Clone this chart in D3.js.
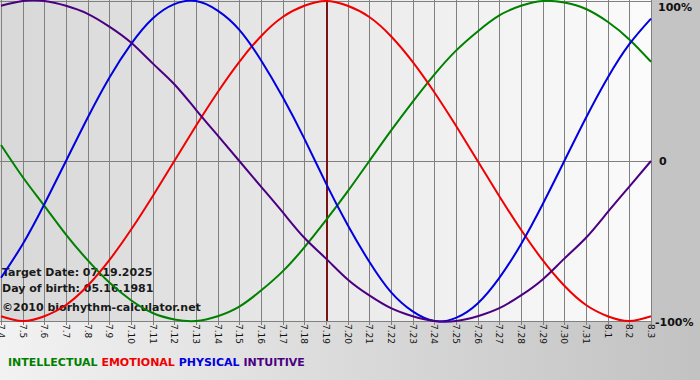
<!DOCTYPE html>
<html>
<head>
<meta charset="utf-8">
<script src="https://cdn.jsdelivr.net/npm/d3@7"></script>
<style>
  html, body { margin: 0; padding: 0; background: #c4c4c4; }
  svg { display: block; font-family: "DejaVu Sans", Verdana, sans-serif; }
</style>
</head>
<body>
<div id="chart"></div>
<script>
const days = ['7.4', '7.5', '7.6', '7.7', '7.8', '7.9', '7.10', '7.11', '7.12', '7.13', '7.14',
  '7.15', '7.16', '7.17', '7.18', '7.19', '7.20', '7.21', '7.22', '7.23', '7.24', '7.25',
  '7.26', '7.27', '7.28', '7.29', '7.30', '7.31', '8.1', '8.2', '8.3'];
const targetDay = '7.19';

const intellectual = [0.10, -0.10, -0.28, -0.46, -0.62, -0.76, -0.87, -0.95, -0.99, -1.00, -0.97,
  -0.91, -0.81, -0.69, -0.54, -0.37, -0.19, 0.00, 0.19, 0.37, 0.54, 0.69, 0.81, 0.91, 0.97,
  1.00, 0.99, 0.95, 0.87, 0.76, 0.62];
const emotional = [-0.97, -1.00, -0.97, -0.90, -0.78, -0.62, -0.43, -0.22, 0.00, 0.22, 0.43,
  0.62, 0.78, 0.90, 0.97, 1.00, 0.97, 0.90, 0.78, 0.62, 0.43, 0.22, 0.00, -0.22, -0.43,
  -0.62, -0.78, -0.90, -0.97, -1.00, -0.97];
const physical = [-0.73, -0.52, -0.27, 0.00, 0.27, 0.52, 0.73, 0.89, 0.98, 1.00, 0.94,
  0.82, 0.63, 0.40, 0.14, -0.14, -0.40, -0.63, -0.82, -0.94, -1.00, -0.98, -0.89, -0.73, -0.52,
  -0.27, 0.00, 0.27, 0.52, 0.73, 0.89];
const intuitive = [0.97, 1.00, 1.00, 0.97, 0.92, 0.84, 0.74, 0.61, 0.48, 0.32, 0.16,
  0.00, -0.16, -0.32, -0.48, -0.61, -0.74, -0.84, -0.92, -0.97, -1.00, -1.00, -0.97, -0.92, -0.84,
  -0.74, -0.61, -0.48, -0.32, -0.16, 0.00];

const yTicks = [1, 0, -1];
const yTickLabels = ['100%', '0', '-100%'];
const infoLines = ['Target Date: 07.19.2025', 'Day of birth: 05.16.1981', '\u00a92010 biorhythm-calculator.net'];

const series = [
  {name: 'INTELLECTUAL', values: intellectual, color: '#008000'},
  {name: 'EMOTIONAL', values: emotional, color: '#f00000'},
  {name: 'PHYSICAL', values: physical, color: '#0000e0'},
  {name: 'INTUITIVE', values: intuitive, color: '#4b0082'}
];

const width = 700;
const height = 380;
const plotLeft = 1;
const plotRight = 651;
const plotTop = 1;
const plotBottom = 321;
const gridColor = '#808080';

const svg = d3.select('#chart')
  .append('svg')
  .attr('width', width)
  .attr('height', height);

const defs = svg.append('defs');

const bgGradient = defs.append('linearGradient')
  .attr('id', 'bg-gradient')
  .attr('x1', '0%').attr('y1', '0%').attr('x2', '100%').attr('y2', '0%');
bgGradient.append('stop').attr('offset', '0%').attr('stop-color', '#f2f2f2');
bgGradient.append('stop').attr('offset', '100%').attr('stop-color', '#c2c2c2');

const plotGradient = defs.append('linearGradient')
  .attr('id', 'plot-gradient')
  .attr('x1', '0%').attr('y1', '0%').attr('x2', '100%').attr('y2', '0%');
plotGradient.append('stop').attr('offset', '0%').attr('stop-color', '#d8d8d8');
plotGradient.append('stop').attr('offset', '100%').attr('stop-color', '#fbfbfb');

// background: gray right margin, lighter gradient at the bottom
svg.append('rect')
  .attr('width', width).attr('height', height)
  .attr('fill', '#c4c4c4');
svg.append('rect')
  .attr('y', plotBottom).attr('width', width).attr('height', height - plotBottom)
  .attr('fill', 'url(#bg-gradient)');

const x = d3.scaleLinear()
  .domain([0, days.length - 1])
  .range([plotLeft, plotRight]);

const y = d3.scaleLinear()
  .domain([-1, 1])
  .range([plotBottom, plotTop]);

svg.append('rect')
  .attr('x', 0).attr('y', 0)
  .attr('width', plotRight).attr('height', plotBottom)
  .attr('fill', 'url(#plot-gradient)');

// vertical grid, one line per day
svg.append('g')
  .selectAll('line')
  .data(days)
  .join('line')
  .attr('x1', (d, i) => Math.round(x(i)) + 0.5)
  .attr('x2', (d, i) => Math.round(x(i)) + 0.5)
  .attr('y1', 0)
  .attr('y2', plotBottom + 4)
  .attr('stroke', gridColor)
  .attr('stroke-width', 1);

// horizontal lines at 100%, 0, -100%
svg.append('g')
  .selectAll('line')
  .data(yTicks)
  .join('line')
  .attr('x1', 0)
  .attr('x2', plotRight)
  .attr('y1', d => Math.round(y(d)) + 0.5)
  .attr('y2', d => Math.round(y(d)) + 0.5)
  .attr('stroke', gridColor);

// target day marker
const targetIndex = days.indexOf(targetDay);
svg.append('line')
  .attr('x1', Math.round(x(targetIndex)) + 1)
  .attr('x2', Math.round(x(targetIndex)) + 1)
  .attr('y1', 0)
  .attr('y2', plotBottom)
  .attr('stroke', '#7a1414')
  .attr('stroke-width', 2);

// x labels, rotated
svg.append('g')
  .selectAll('text')
  .data(days)
  .join('text')
  .attr('transform', (d, i) => `translate(${Math.round(x(i)) - 3}, ${plotBottom + 3}) rotate(90)`)
  .attr('font-size', '9px')
  .attr('fill', '#111')
  .text(d => d);

// y labels on the right
svg.append('g')
  .selectAll('text')
  .data(yTicks)
  .join('text')
  .attr('x', (d, i) => [658, 659, 655][i])
  .attr('y', (d, i) => [11, 165, 326][i])
  .attr('font-size', '11px')
  .attr('font-weight', 'bold')
  .attr('fill', '#111')
  .text((d, i) => yTickLabels[i]);

// info text block
svg.append('g')
  .selectAll('text')
  .data(infoLines)
  .join('text')
  .attr('x', 2)
  .attr('y', (d, i) => [276, 292, 311][i])
  .attr('font-size', '11px')
  .attr('font-weight', 'bold')
  .attr('fill', '#1a1a1a')
  .text(d => d);

// curves
const line = d3.line()
  .x((d, i) => x(i))
  .y(d => y(d))
  .curve(d3.curveNatural);

svg.append('g')
  .selectAll('path')
  .data(series)
  .join('path')
  .attr('d', d => line(d.values))
  .attr('fill', 'none')
  .attr('stroke', d => d.color)
  .attr('stroke-width', 2);

// legend
const legend = svg.append('text')
  .attr('x', 8)
  .attr('y', 366)
  .attr('font-size', '11px')
  .attr('font-weight', 'bold');

legend.selectAll('tspan')
  .data(series)
  .join('tspan')
  .attr('fill', d => d.color)
  .text((d, i) => (i > 0 ? ' ' : '') + d.name);
</script>
</body>
</html>
